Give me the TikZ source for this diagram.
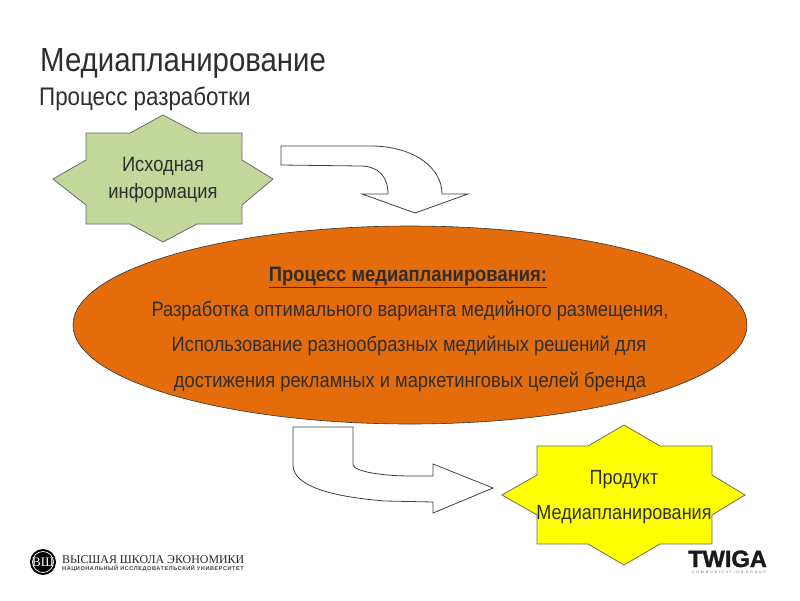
\documentclass[tikz,border=0pt]{standalone}
\usepackage{fontspec}
\setmainfont{Liberation Sans}
\newfontfamily\logoserif{Liberation Serif}
\newfontfamily\narrowsans[FakeStretch=0.88]{Liberation Sans}
\definecolor{txt}{HTML}{2E2E2E}
\definecolor{sage}{HTML}{C4D79B}
\definecolor{orangefill}{HTML}{E46C0A}
\definecolor{yellowfill}{HTML}{FFFF00}
\definecolor{edgegrey}{HTML}{6B6B6B}
\newcommand{\fs}[1]{\fontsize{#1}{#1}\selectfont}
\tikzset{
  x=1pt,y=-1pt,
  star/.style={draw=edgegrey,line width=0.8pt,line join=miter},
  blockarrow/.style={draw=black!75,fill=white,line width=0.8pt},
  label/.style={text=txt,inner sep=0pt,anchor=center},
  leftlabel/.style={text=txt,inner sep=0pt,anchor=base west},
}
\begin{document}
\begin{tikzpicture}
\useasboundingbox (0,0) rectangle (800,600);
\fill[white] (0,0) rectangle (800,600);
% titles
\node[leftlabel,font=\narrowsans\fs{33.4}] (title) at (40,71) {Медиапланирование};
\node[leftlabel,font=\narrowsans\fs{25.4}] (subtitle) at (39,105) {Процесс разработки};
% star 1
\draw[star,fill=sage] (163,115) -- (197,133) -- (242,133) -- (242,160) -- (273,179) -- (242,205) -- (242,224) -- (197,224) -- (163,242) -- (130,224) -- (86,224) -- (86,205) -- (53,179) -- (86,160) -- (86,133) -- (130,133) -- cycle;
\node[label,font=\narrowsans\fs{20.8}] (src1) at (163,166) {Исходная};
\node[label,font=\narrowsans\fs{20.8}] (src2) at (163,193) {информация};
% arrow 1
\draw[blockarrow] (281,146) -- (373,146) .. controls (415,147) and (442,168) .. (442,194) -- (468,194) -- (415,213) -- (362,194) -- (388,194) .. controls (388,176) and (378,166) .. (360,166) -- (281,165) -- cycle;
% ellipse
\draw[draw=black!80,fill=orangefill,line width=0.6pt] (410,325) ellipse [x radius=337,y radius=99];
\node[label,font=\narrowsans\fs{20.9}] (h) at (408,277) {\textbf{\underline{Процесс медиапланирования:}}};
\node[label,font=\narrowsans\fs{20.8}] (l1) at (410,311) {Разработка оптимального варианта медийного размещения,};
\node[label,font=\narrowsans\fs{20.8}] (l2) at (409,346) {Использование разнообразных медийных решений для};
\node[label,font=\narrowsans\fs{20.8}] (l3) at (410,382) {достижения рекламных и маркетинговых целей бренда};
% arrow 2
\draw[blockarrow] (293,427) -- (353,427) -- (353,465) .. controls (355,472) and (385,476) .. (410,476) -- (433,476) -- (433,464) -- (493,488) -- (433,513) -- (433,502) -- (385,501) .. controls (335,497) and (293,487) .. (293,465) -- cycle;
% star 2
\draw[star,fill=yellowfill] (624,425) -- (660,446) -- (712,446) -- (712,475) -- (745,495) -- (712,515) -- (712,544) -- (660,544) -- (624,565) -- (588,544) -- (537,544) -- (537,515) -- (502,495) -- (537,475) -- (537,446) -- (588,446) -- cycle;
\node[label,font=\narrowsans\fs{20.5}] (p1) at (624,480) {Продукт};
\node[label,font=\narrowsans\fs{20.5}] (p2) at (624,515) {Медиапланирования};
% HSE logo
\fill[black] (43,562) circle (13);
\draw[white,line width=0.7pt] (43,562) circle (10.5);
\node[white,inner sep=0pt,font=\logoserif\fs{13}] (hselogo) at (43,562) {ВШ};
\node[inner sep=0pt,anchor=base west,text=black!85,font=\logoserif\fs{11.9}] (hse1) at (62,563) {ВЫСШАЯ ШКОЛА ЭКОНОМИКИ};
\node[inner sep=0pt,anchor=base west,text=black!75,font=\bfseries\fs{5.6}] (hse2) at (62,570.5) {\addfontfeature{LetterSpace=9.5}НАЦИОНАЛЬНЫЙ ИССЛЕДОВАТЕЛЬСКИЙ УНИВЕРСИТЕТ};
% TWIGA logo
\node[inner sep=0pt,anchor=base west,text=black!90,font=\bfseries\fs{23.6}] (twiga) at (688,567) {\addfontfeature{FakeBold=1.5}TWIGA};
\node[inner sep=0pt,anchor=base west,text=black!60,font=\fs{3.5}] (twiga2) at (692,573) {\addfontfeature{LetterSpace=50}COMMUNICATION GROUP};
\end{tikzpicture}
\end{document}
